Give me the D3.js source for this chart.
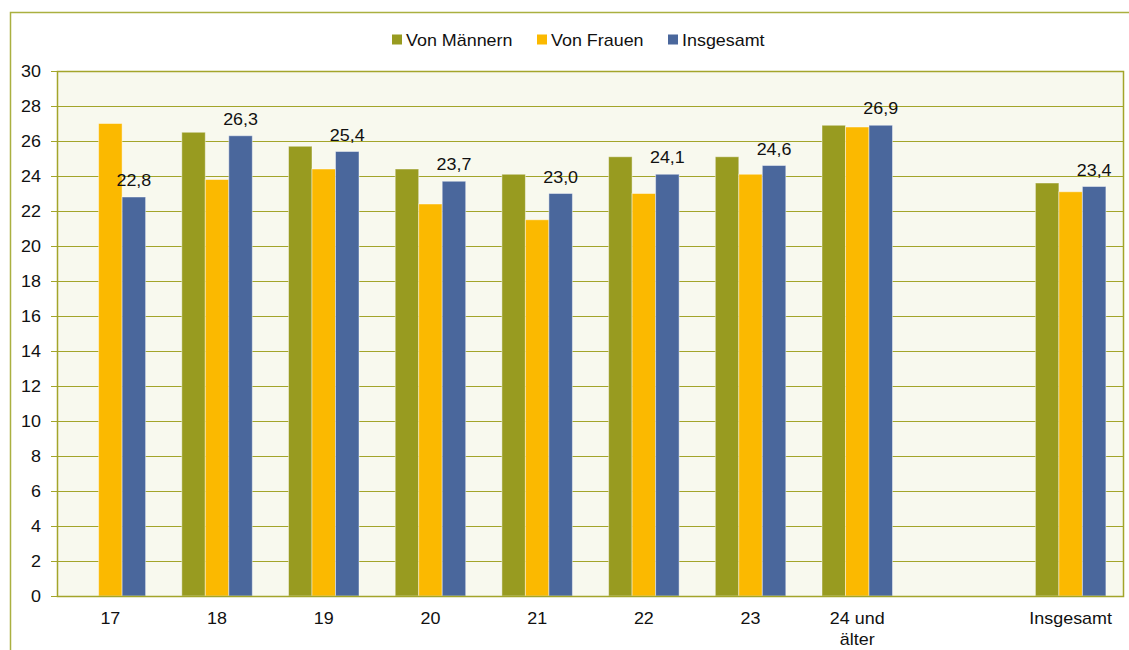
<!DOCTYPE html>
<html><head><meta charset="utf-8">
<script src="https://cdn.jsdelivr.net/npm/d3@7"></script>
<style>body{margin:0;background:#fff}svg{display:block;font-family:"Liberation Sans",Arial,sans-serif}</style>
</head><body><svg id="c" width="1129" height="650"></svg>
<script>
const categories = ["17","18","19","20","21","22","23","24 und\nälter","","Insgesamt"];
const seriesNames = ["Von Männern","Von Frauen","Insgesamt"];
const men =   [null,26.5,25.7,24.4,24.1,25.1,25.1,26.9,null,23.6];
const women = [27.0,23.8,24.4,22.4,21.5,23.0,24.1,26.8,null,23.1];
const total = [22.8,26.3,25.4,23.7,23.0,24.1,24.6,26.9,null,23.4];
const yTicks = [0,2,4,6,8,10,12,14,16,18,20,22,24,26,28,30];
const colors = ["#989b20","#fbb900","#4a679c"];

const svg = d3.select("#c");
const L=57,R=1124,T=71,B=596;
const SX=1.12;
const x = d3.scaleBand().domain(categories.map((d,i)=>i)).range([L,R]).paddingInner(0).paddingOuter(0);
const y = d3.scaleLinear().domain([0,30]).range([B,T]);
const bw = 23.5;
const inner = d3.scaleBand().domain([0,1,2]).range([-bw*1.5,bw*1.5]);

function txt(g,tx,ty,s,anchor){
  return g.append("text").attr("transform",`translate(${tx},${ty}) scale(${SX},1)`)
    .attr("text-anchor",anchor||"start").attr("font-size",16).attr("fill","#111").text(s);
}

// outer frame
svg.append("path").attr("d",`M10.5,650 V12.5 H1129`).attr("fill","none").attr("stroke","#aab040").attr("stroke-width",1.5);
// plot bg
svg.append("rect").attr("x",L).attr("y",T).attr("width",R-L).attr("height",B-T).attr("fill","#f8f9ee");
// grid
svg.append("g").selectAll("line").data(yTicks).join("line")
  .attr("x1",51).attr("x2",R).attr("y1",d=>Math.round(y(d))+0.5).attr("y2",d=>Math.round(y(d))+0.5)
  .attr("stroke","#a3a52a").attr("stroke-width",1.2);
// y labels
const gy=svg.append("g");
yTicks.forEach(d=>txt(gy,41,y(d)+5.5,d,"end"));
// bars
const series=[men,women,total];
series.forEach((s,si)=>{
  svg.append("g").selectAll("rect").data(s.map((v,i)=>({v,i})).filter(d=>d.v!=null)).join("rect")
    .attr("x",d=>x(d.i)+x.bandwidth()/2+inner(si))
    .attr("width",bw).attr("y",d=>y(d.v)).attr("height",d=>B-y(d.v))
    .attr("fill",colors[si]).attr("stroke","rgba(255,255,255,0.45)").attr("stroke-width",1);
});
// labels on total
const gl=svg.append("g");
total.forEach((v,i)=>{ if(v!=null) txt(gl,x(i)+x.bandwidth()/2+inner(2)+bw/2,y(v)-11,v.toFixed(1).replace(".",","),"middle"); });
// plot border
svg.append("rect").attr("x",L+0.5).attr("y",T+0.5).attr("width",R-L-1).attr("height",B-T).attr("fill","none").attr("stroke","#a3a52a").attr("stroke-width",1.5);
// x labels
const gx=svg.append("g");
categories.forEach((c,i)=>{
  c.split("\n").forEach((ln,j)=>txt(gx,x(i)+x.bandwidth()/2,624+21*j,ln,"middle"));
});
// legend
const lx=[392,537,668];
const glg=svg.append("g");
seriesNames.forEach((n,i)=>{
  glg.append("rect").attr("x",lx[i]).attr("y",34.5).attr("width",10).attr("height",10).attr("fill",colors[i]);
  txt(glg,lx[i]+14,46,n);
});
</script></body></html>
